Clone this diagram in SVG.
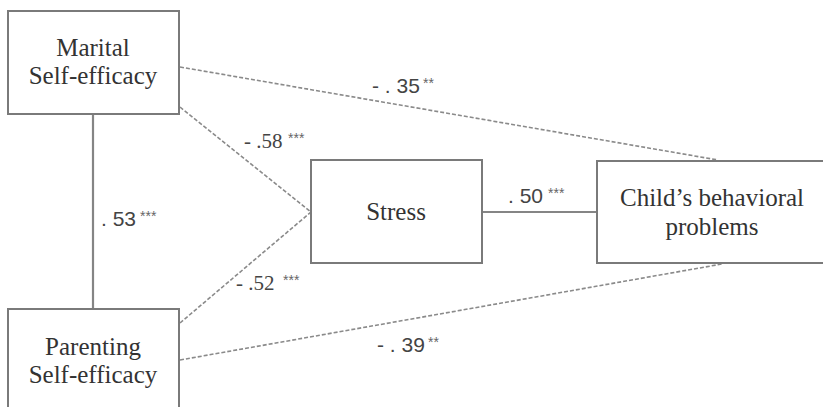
<svg xmlns="http://www.w3.org/2000/svg" width="823" height="407" viewBox="0 0 823 407">
<style>
.box{fill:#fff;stroke:#7a7a7a;stroke-width:2}
.lbl{font-family:"Liberation Serif","DejaVu Serif",serif;font-size:25px;fill:#333;text-anchor:middle}
.solid{stroke:#858585;stroke-width:2.2;fill:none}
.dash{stroke:#8a8a8a;stroke-width:1.6;stroke-dasharray:4 2;fill:none}
.ns{font-family:"Liberation Sans",Arial,sans-serif;font-size:21px;fill:#444}
.nr{font-family:"Liberation Serif","Times New Roman",serif;font-size:21px;fill:#444}
.st{font-family:"Liberation Sans",Arial,sans-serif;font-size:14px;fill:#666}
</style>
<rect width="823" height="407" fill="#fff"/>
<g id="connectors">
<line class="solid" x1="93" y1="114" x2="93" y2="309"/>
<line class="solid" x1="482" y1="212" x2="597" y2="212"/>
<line class="dash" x1="180" y1="67" x2="718" y2="160"/>
<line class="dash" x1="180" y1="107" x2="311" y2="212"/>
<line class="dash" x1="180" y1="323" x2="311" y2="212"/>
<line class="dash" x1="180" y1="360" x2="722" y2="264"/>
</g>
<g id="labels">
<text class="ns" x="101" y="226">. 53</text><text class="st" x="140" y="221">***</text>
<text class="ns" x="508" y="203">. 50</text><text class="st" x="548" y="198">***</text>
<text class="ns" x="372" y="93">- . 35</text><text class="st" x="423" y="88">**</text>
<text class="nr" x="244" y="148">- .58</text><text class="st" x="288" y="143">***</text>
<text class="nr" x="236" y="290">- .52</text><text class="st" x="283" y="285">***</text>
<text class="ns" x="377" y="352">- . 39</text><text class="st" x="428" y="347">**</text>
</g>
<g id="marital">
<rect class="box" x="8" y="11" width="171" height="103"/>
<text class="lbl" x="93" y="56">Marital</text>
<text class="lbl" x="93" y="84">Self-efficacy</text>
</g>
<g id="parenting">
<rect class="box" x="8" y="309" width="171" height="110"/>
<text class="lbl" x="93" y="355">Parenting</text>
<text class="lbl" x="93" y="383">Self-efficacy</text>
</g>
<g id="stress">
<rect class="box" x="311" y="160" width="171" height="103"/>
<text class="lbl" x="396" y="220">Stress</text>
</g>
<g id="child">
<rect class="box" x="597" y="161" width="240" height="102"/>
<text class="lbl" x="712" y="206">Child’s behavioral</text>
<text class="lbl" x="712" y="235">problems</text>
</g>
</svg>
